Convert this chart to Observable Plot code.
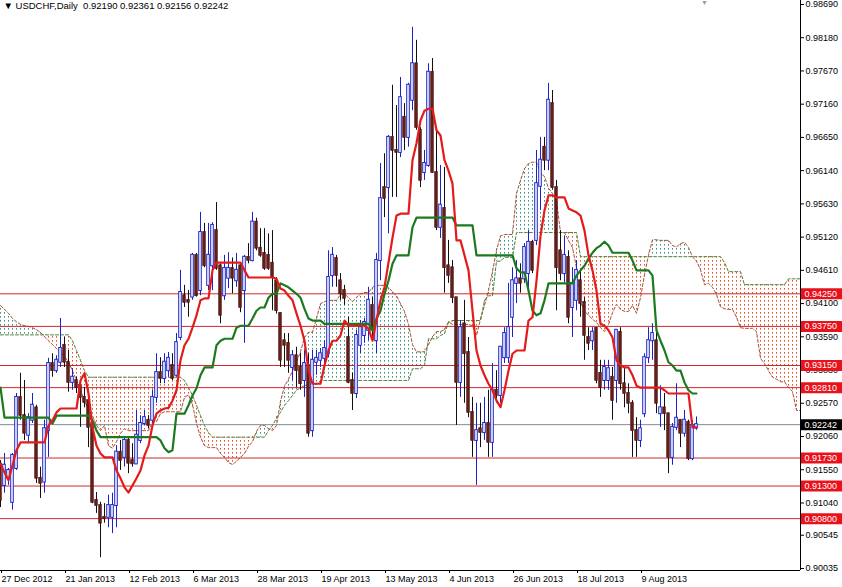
<!DOCTYPE html>
<html><head><meta charset="utf-8">
<script src="https://cdn.jsdelivr.net/npm/d3@7"></script>
<script src="https://cdn.jsdelivr.net/npm/@observablehq/plot@0.6"></script>
<style>
html,body{margin:0;padding:0;background:#fff;}
svg{display:block;}
</style>
</head><body><div id="chart"></div>
<script>
const symbol = "USDCHF";
const period = "Daily";

const open = [0.9164,0.9131,0.9142,0.9105,0.9157,0.9266,0.9238,0.9208,0.9231,0.9250,
0.9142,0.9136,0.9215,0.9318,0.9307,0.9320,0.9346,0.9320,0.9289,0.9292,
0.9284,0.9266,0.9261,0.9226,0.9108,0.9100,0.9082,0.9082,0.9082,0.9100,
0.9182,0.9174,0.9200,0.9169,0.9164,0.9200,0.9226,0.9231,0.9231,0.9266,
0.9304,0.9295,0.9307,0.9315,0.9300,0.9358,0.9422,0.9415,0.9420,0.9484,
0.9430,0.9519,0.9438,0.9468,0.9522,0.9468,0.9422,0.9449,0.9464,0.9445,
0.9468,0.9430,0.9481,0.9476,0.9535,0.9495,0.9487,0.9484,0.9472,0.9445,
0.9395,0.9353,0.9349,0.9312,0.9330,0.9312,0.9292,0.9315,0.9215,0.9320,
0.9323,0.9326,0.9333,0.9453,0.9479,0.9445,0.9430,0.9358,0.9292,0.9272,
0.9346,0.9361,0.9369,0.9407,0.9353,0.9476,0.9588,0.9588,0.9665,0.9645,
0.9642,0.9696,0.9665,0.9722,0.9778,0.9676,0.9611,0.9622,0.9765,0.9611,
0.9527,0.9556,0.9468,0.9465,0.9419,0.9289,0.9379,0.9335,0.9243,0.9200,
0.9218,0.9212,0.9226,0.9197,0.9277,0.9269,0.9327,0.9327,0.9389,0.9441,
0.9448,0.9448,0.9456,0.9504,0.9507,0.9590,0.9650,0.9630,0.9717,0.9588,
0.9491,0.9456,0.9481,0.9404,0.9415,0.9445,0.9412,0.9358,0.9353,0.9372,
0.9303,0.9292,0.9292,0.9297,0.9292,0.9366,0.9287,0.9272,0.9257,0.9215,
0.9200,0.9241,0.9327,0.9353,0.9353,0.9241,0.9250,0.9241,0.9174,0.9220,
0.9231,0.9211,0.9228,0.9172,0.92190];

const high = [0.9169,0.9180,0.9157,0.9180,0.9272,0.9303,0.9292,0.9241,0.9272,0.9254,
0.9159,0.9231,0.9326,0.9333,0.9330,0.9387,0.9358,0.9338,0.9310,0.9297,
0.9292,0.9281,0.9272,0.9228,0.9120,0.9105,0.9103,0.9116,0.9119,0.9192,
0.9200,0.9205,0.9205,0.9195,0.9246,0.9238,0.9246,0.9238,0.9277,0.9333,
0.9327,0.9333,0.9335,0.9333,0.9364,0.9461,0.9438,0.9430,0.9487,0.9487,
0.9550,0.9533,0.9533,0.9534,0.9565,0.9471,0.9484,0.9488,0.9480,0.9487,
0.9473,0.9484,0.9502,0.9550,0.9541,0.9525,0.9525,0.9517,0.9522,0.9450,
0.9395,0.9364,0.9364,0.9338,0.9343,0.9333,0.9338,0.9333,0.9338,0.9338,
0.9341,0.9353,0.9491,0.9496,0.9484,0.9456,0.9438,0.9389,0.9303,0.9369,
0.9384,0.9387,0.9435,0.9419,0.9487,0.9625,0.9640,0.9668,0.9745,0.9714,
0.9757,0.9717,0.9748,0.9834,0.9814,0.9680,0.9645,0.9778,0.9786,0.9680,
0.9622,0.9619,0.9507,0.9476,0.9419,0.9384,0.9415,0.9358,0.9266,0.9257,
0.9257,0.9266,0.9277,0.9318,0.9307,0.9343,0.9373,0.9441,0.9465,0.9476,
0.9471,0.9502,0.9522,0.9507,0.9645,0.9665,0.9665,0.9748,0.9737,0.9599,
0.9522,0.9514,0.9491,0.9465,0.9476,0.9461,0.9419,0.9373,0.9373,0.9373,
0.9323,0.9323,0.9323,0.9312,0.9369,0.9373,0.9312,0.9287,0.9261,0.9235,
0.9231,0.9333,0.9373,0.9379,0.9373,0.9284,0.9272,0.9241,0.9226,0.9287,
0.9231,0.9246,0.9231,0.9231,0.92361];

const low = [0.9097,0.9119,0.9131,0.9093,0.9154,0.9231,0.9200,0.9195,0.9226,0.9134,
0.9111,0.9119,0.9174,0.9297,0.9303,0.9312,0.9312,0.9274,0.9277,0.9272,
0.9220,0.9250,0.9189,0.9103,0.9088,0.9020,0.9073,0.9066,0.9057,0.9066,
0.9154,0.9159,0.9149,0.9159,0.9164,0.9195,0.9223,0.9218,0.9223,0.9257,
0.9287,0.9287,0.9297,0.9292,0.9297,0.9353,0.9404,0.9389,0.9415,0.9420,
0.9422,0.9465,0.9430,0.9430,0.9461,0.9379,0.9415,0.9433,0.9425,0.9435,
0.9396,0.9349,0.9471,0.9474,0.9491,0.9481,0.9461,0.9461,0.9399,0.9394,
0.9312,0.9312,0.9303,0.9292,0.9281,0.9277,0.9266,0.9205,0.9205,0.9300,
0.9312,0.9318,0.9327,0.9435,0.9435,0.9415,0.9407,0.9287,0.9246,0.9264,
0.9333,0.9349,0.9353,0.9358,0.9333,0.9445,0.9542,0.9517,0.9573,0.9573,
0.9634,0.9645,0.9650,0.9706,0.9676,0.9588,0.9599,0.9619,0.9610,0.9522,
0.9510,0.9426,0.9441,0.9410,0.9223,0.9266,0.9257,0.9235,0.9174,0.9131,
0.9189,0.9200,0.9174,0.9174,0.9257,0.9257,0.9318,0.9318,0.9358,0.9410,
0.9426,0.9441,0.9430,0.9456,0.9499,0.9553,0.9614,0.9614,0.9584,0.9399,
0.9445,0.9442,0.9379,0.9358,0.9399,0.9389,0.9323,0.9338,0.9338,0.9287,
0.9266,0.9277,0.9277,0.9231,0.9257,0.9277,0.9250,0.9241,0.9174,0.9174,
0.9189,0.9235,0.9318,0.9323,0.9241,0.9220,0.9215,0.9149,0.9162,0.9215,
0.9189,0.9205,0.9169,0.9169,0.92156];

const close = [0.9108,0.9162,0.9154,0.9177,0.9266,0.9238,0.9211,0.9235,0.9254,0.9142,
0.9134,0.9218,0.9318,0.9307,0.9323,0.9341,0.9320,0.9289,0.9297,0.9281,
0.9266,0.9258,0.9220,0.9105,0.9100,0.9073,0.9080,0.9100,0.9100,0.9182,
0.9169,0.9200,0.9165,0.9164,0.9208,0.9226,0.9235,0.9223,0.9266,0.9304,
0.9295,0.9320,0.9326,0.9295,0.9350,0.9427,0.9412,0.9412,0.9484,0.9422,
0.9519,0.9468,0.9484,0.9530,0.9464,0.9392,0.9464,0.9464,0.9449,0.9461,
0.9404,0.9481,0.9476,0.9535,0.9495,0.9484,0.9464,0.9464,0.9450,0.9399,
0.9323,0.9346,0.9323,0.9330,0.9307,0.9287,0.9318,0.9211,0.9323,0.9326,
0.9333,0.9341,0.9450,0.9484,0.9453,0.9425,0.9418,0.9289,0.9272,0.9361,
0.9373,0.9381,0.9415,0.9369,0.9476,0.9571,0.9571,0.9665,0.9645,0.9642,
0.9726,0.9665,0.9745,0.9778,0.9680,0.9599,0.9625,0.9765,0.9611,0.9527,
0.9561,0.9465,0.9453,0.9419,0.9289,0.9373,0.9333,0.9243,0.9200,0.9215,
0.9212,0.9226,0.9197,0.9277,0.9269,0.9343,0.9364,0.9373,0.9445,0.9448,
0.9441,0.9496,0.9504,0.9461,0.9594,0.9630,0.9630,0.9722,0.9588,0.9465,
0.9456,0.9484,0.9389,0.9441,0.9461,0.9410,0.9361,0.9349,0.9366,0.9292,
0.9281,0.9312,0.9310,0.9261,0.9369,0.9287,0.9272,0.9257,0.9215,0.9200,
0.9218,0.9327,0.9353,0.9364,0.9257,0.9250,0.9241,0.9174,0.9220,0.9234,
0.9211,0.9231,0.9172,0.9223,0.92242];

// Ichimoku: Tenkan-sen (red), Kijun-sen (green)
const tenkan = [0.9164,0.9151,0.9139,0.9162,0.9185,0.9197,0.9197,0.9197,0.9197,0.9197,0.9197,0.9197,0.9223,0.9231,0.9243,0.9249,0.9249,0.9249,0.9249,0.9249,
0.9292,0.9303,0.9272,0.9220,0.9192,0.9180,0.9174,0.9174,0.9174,0.9154,0.9142,0.9128,0.9120,0.9131,0.9142,0.9154,0.9177,0.9192,0.9223,0.9241,
0.9246,0.9249,0.9250,0.9261,0.9277,0.9323,0.9346,0.9356,0.9373,0.9392,0.9415,0.9418,0.9418,0.9461,0.9473,0.9473,0.9473,0.9473,0.9473,0.9473,
0.9473,0.9461,0.9450,0.9450,0.9450,0.9450,0.9450,0.9450,0.9450,0.9448,0.9433,0.9430,0.9422,0.9415,0.9395,0.9376,0.9353,0.9307,0.9287,0.9287,
0.9287,0.9315,0.9338,0.9353,0.9353,0.9361,0.9384,0.9376,0.9376,0.9376,0.9376,0.9376,0.9372,0.9353,0.9384,0.9415,0.9435,0.9473,0.9511,0.9545,
0.9548,0.9548,0.9548,0.9630,0.9656,0.9691,0.9706,0.9709,0.9709,0.9676,0.9668,0.9630,0.9614,0.9594,0.9507,0.9507,0.9484,0.9461,0.9399,0.9338,
0.9315,0.9300,0.9287,0.9277,0.9261,0.9251,0.9277,0.9307,0.9333,0.9338,0.9338,0.9338,0.9384,0.9389,0.9445,0.9514,0.9553,0.9576,0.9576,0.9573,
0.9573,0.9573,0.9556,0.9553,0.9550,0.9545,0.9522,0.9484,0.9461,0.9430,0.9379,0.9376,0.9369,0.9358,0.9323,0.9315,0.9312,0.9312,0.9300,0.9284,
0.9281,0.9281,0.9281,0.9281,0.9281,0.9281,0.9277,0.9272,0.9272,0.9272,0.9272,0.9272,0.9272,0.9220,0.9220];

const kijun = [0.9281,0.9235,0.9235,0.9235,0.9235,0.9235,0.9235,0.9235,0.9235,0.9235,0.9235,0.9235,0.9235,0.9226,0.9238,0.9238,0.9238,0.9238,0.9238,0.9238,
0.9238,0.9238,0.9238,0.9231,0.9215,0.9205,0.9205,0.9205,0.9205,0.9205,0.9205,0.9205,0.9205,0.9205,0.9205,0.9205,0.9205,0.9205,0.9205,0.9205,
0.9200,0.9188,0.9182,0.9185,0.9241,0.9241,0.9241,0.9254,0.9269,0.9280,0.9300,0.9312,0.9312,0.9312,0.9346,0.9353,0.9356,0.9356,0.9356,0.9373,
0.9376,0.9376,0.9376,0.9387,0.9399,0.9404,0.9404,0.9419,0.9425,0.9425,0.9441,0.9438,0.9435,0.9430,0.9425,0.9419,0.9402,0.9387,0.9384,0.9384,
0.9384,0.9379,0.9379,0.9379,0.9379,0.9379,0.9379,0.9379,0.9379,0.9379,0.9379,0.9379,0.9379,0.9369,0.9387,0.9399,0.9425,0.9445,0.9471,0.9484,
0.9484,0.9484,0.9484,0.9527,0.9542,0.9542,0.9542,0.9542,0.9542,0.9542,0.9542,0.9542,0.9542,0.9542,0.9530,0.9530,0.9530,0.9530,0.9530,0.9484,
0.9484,0.9484,0.9484,0.9484,0.9484,0.9484,0.9484,0.9484,0.9484,0.9464,0.9458,0.9458,0.9430,0.9399,0.9392,0.9395,0.9415,0.9441,0.9441,0.9441,
0.9441,0.9441,0.9441,0.9441,0.9453,0.9461,0.9468,0.9479,0.9488,0.9495,0.9499,0.9505,0.9499,0.9488,0.9488,0.9488,0.9488,0.9488,0.9476,0.9461,
0.9461,0.9461,0.9461,0.9453,0.9369,0.9353,0.9338,0.9320,0.9315,0.9307,0.9307,0.9289,0.9277,0.9272,0.9272];

// Senkou Span A / B (already shifted 26 bars forward, 201 bars)
const spanA = [0.9407,0.9401,0.9395,0.9387,0.9382,0.9378,0.9376,0.9375,0.9373,0.9370,0.9366,0.9359,0.9353,0.9347,0.9341,0.9335,0.9329,0.9320,0.9307,0.9292,
0.9277,0.9261,0.9246,0.9238,0.9223,0.9215,0.9223,0.9192,0.9188,0.9198,0.9211,0.9218,0.9215,0.9215,0.9215,0.9215,0.9215,0.9215,0.9229,0.9229,
0.9241,0.9244,0.9244,0.9244,0.9244,0.9244,0.9266,0.9270,0.9255,0.9226,0.9205,0.9192,0.9189,0.9189,0.9189,0.9180,0.9174,0.9166,0.9163,0.9168,
0.9174,0.9180,0.9191,0.9198,0.9214,0.9223,0.9223,0.9218,0.9215,0.9223,0.9260,0.9283,0.9294,0.9306,0.9321,0.9336,0.9358,0.9366,0.9366,0.9387,
0.9410,0.9413,0.9415,0.9415,0.9415,0.9424,0.9425,0.9419,0.9413,0.9419,0.9425,0.9427,0.9427,0.9435,0.9438,0.9438,0.9438,0.9435,0.9428,0.9422,
0.9410,0.9398,0.9378,0.9347,0.9336,0.9336,0.9336,0.9347,0.9359,0.9367,0.9367,0.9370,0.9382,0.9378,0.9378,0.9378,0.9378,0.9378,0.9376,0.9361,
0.9386,0.9407,0.9430,0.9459,0.9492,0.9514,0.9516,0.9516,0.9516,0.9579,0.9599,0.9617,0.9625,0.9627,0.9627,0.9610,0.9605,0.9587,0.9579,0.9568,
0.9519,0.9519,0.9507,0.9496,0.9465,0.9412,0.9399,0.9392,0.9386,0.9381,0.9373,0.9367,0.9378,0.9396,0.9409,0.9401,0.9398,0.9398,0.9407,0.9395,
0.9419,0.9454,0.9484,0.9508,0.9508,0.9507,0.9507,0.9507,0.9499,0.9497,0.9502,0.9504,0.9496,0.9482,0.9475,0.9462,0.9439,0.9441,0.9435,0.9424,
0.9405,0.9402,0.9401,0.9401,0.9389,0.9373,0.9372,0.9372,0.9372,0.9367,0.9326,0.9318,0.9307,0.9297,0.9294,0.9290,0.9290,0.9281,0.9275,0.9246,0.9246];

const spanB = [0.9362,0.9362,0.9362,0.9362,0.9362,0.9362,0.9362,0.9362,0.9362,0.9362,0.9362,0.9362,0.9362,0.9362,0.9362,0.9362,0.9362,0.9362,0.9353,0.9338,
0.9323,0.9307,0.9297,0.9297,0.9297,0.9297,0.9297,0.9297,0.9297,0.9297,0.9297,0.9297,0.9297,0.9297,0.9297,0.9297,0.9297,0.9297,0.9297,0.9297,
0.9297,0.9297,0.9297,0.9297,0.9297,0.9297,0.9292,0.9281,0.9269,0.9254,0.9238,0.9223,0.9212,0.9205,0.9205,0.9205,0.9205,0.9205,0.9205,0.9205,
0.9205,0.9205,0.9205,0.9205,0.9205,0.9205,0.9205,0.9215,0.9223,0.9234,0.9243,0.9254,0.9261,0.9269,0.9277,0.9281,0.9284,0.9286,0.9286,0.9286,
0.9292,0.9292,0.9292,0.9292,0.9292,0.9292,0.9292,0.9292,0.9292,0.9292,0.9292,0.9292,0.9292,0.9292,0.9292,0.9292,0.9292,0.9292,0.9292,0.9292,
0.9292,0.9292,0.9292,0.9310,0.9310,0.9310,0.9315,0.9356,0.9356,0.9356,0.9361,0.9364,0.9381,0.9384,0.9384,0.9384,0.9384,0.9384,0.9384,0.9384,
0.9384,0.9415,0.9422,0.9422,0.9475,0.9475,0.9481,0.9481,0.9481,0.9519,0.9519,0.9519,0.9519,0.9519,0.9519,0.9519,0.9519,0.9519,0.9519,0.9519,
0.9519,0.9519,0.9519,0.9519,0.9519,0.9482,0.9482,0.9482,0.9482,0.9482,0.9482,0.9482,0.9482,0.9482,0.9482,0.9482,0.9482,0.9482,0.9482,0.9482,
0.9482,0.9482,0.9482,0.9482,0.9482,0.9482,0.9482,0.9482,0.9482,0.9482,0.9482,0.9482,0.9482,0.9482,0.9482,0.9482,0.9482,0.9482,0.9482,0.9482,
0.9482,0.9473,0.9459,0.9459,0.9459,0.9459,0.9439,0.9439,0.9439,0.9439,0.9439,0.9439,0.9439,0.9439,0.9439,0.9439,0.9439,0.9448,0.9448,0.9448,0.9448];

const dateLabels = ["27 Dec 2012","21 Jan 2013","12 Feb 2013","6 Mar 2013","28 Mar 2013","19 Apr 2013","13 May 2013","4 Jun 2013","26 Jun 2013","18 Jul 2013","9 Aug 2013"];
const dateTickBars = [0,16,32,48,64,80,96,112,128,144,160];
const priceTicks = [0.98690,0.98180,0.97670,0.97160,0.96650,0.96140,0.95630,0.95120,0.94610,0.94100,0.93590,0.93080,0.92570,0.92060,0.91550,0.91040,0.90545,0.90035];
const levels = [0.94250,0.93750,0.93150,0.92810,0.91730,0.91300,0.90800];

const candles = close.map((c, i) => ({i, o: open[i], h: high[i], l: low[i], c, up: c >= open[i]}));
const lines = tenkan.map((t, i) => ({i, t, k: kijun[i]}));
const cloud = spanA.map((a, i) => ({i, a, b: spanB[i]}));
const last = candles[candles.length - 1];
const upC = candles.filter(d => d.up), dnC = candles.filter(d => !d.up);

const xMax = spanA.length - 1;       // 200
const yDomain = [0.90004, 0.98751];
const f5 = d => d.toFixed(5);
const title = `\u25BC\u00A0${symbol},${period}\u00A0\u00A0${f5(last.o)} ${f5(last.h)} ${f5(last.l)} ${f5(last.c)}`;
const hw = 0.32;

const chart = Plot.plot({
  width: 842, height: 587,
  marginLeft: 0, marginRight: 42, marginTop: 0, marginBottom: 17,
  style: {fontFamily: "'Liberation Sans', Arial, sans-serif", fontSize: "9px", background: "#fff", color: "#000"},
  x: {type: "linear", domain: [0, xMax], label: null},
  y: {domain: yDomain, label: null},
  marks: [
    // Kumo (cloud)
    Plot.areaY(cloud, {x: "i", y1: "b", y2: d => Math.max(d.a, d.b), fill: "url(#kumoUp)"}),
    Plot.areaY(cloud, {x: "i", y1: "a", y2: d => Math.max(d.a, d.b), fill: "url(#kumoDown)"}),
    Plot.line(cloud, {x: "i", y: "a", stroke: "#a8503a", strokeWidth: 1, strokeDasharray: "3,2"}),
    Plot.line(cloud, {x: "i", y: "b", stroke: "#4f7d35", strokeWidth: 1, strokeDasharray: "3,2"}),
    // horizontal levels
    Plot.ruleY(levels, {stroke: "#d0282c", strokeWidth: 1}),
    Plot.ruleY([last.c], {stroke: "#7d8b99", strokeWidth: 1}),
    // candles
    Plot.ruleX(dnC, {x: "i", y1: "l", y2: "h", stroke: "#111"}),
    Plot.rect(dnC, {x1: d => d.i - hw, x2: d => d.i + hw, y1: "c", y2: "o", fill: "#6a1c18", stroke: "#3a0c0a", strokeWidth: 0.6, insetTop: -0.5, insetBottom: -0.5}),
    Plot.ruleX(upC, {x: "i", y1: "l", y2: "h", stroke: "#1a22c8"}),
    Plot.rect(upC, {x1: d => d.i - hw, x2: d => d.i + hw, y1: "o", y2: "c", fill: "#fff", stroke: "#1a22c8", strokeWidth: 1, insetTop: -0.5, insetBottom: -0.5}),
    // Tenkan / Kijun
    Plot.line(lines, {x: "i", y: "k", stroke: "#1b7a1e", strokeWidth: 2.2}),
    Plot.line(lines, {x: "i", y: "t", stroke: "#e41b1b", strokeWidth: 2.2}),
    // frame lines (right and bottom)
    Plot.ruleX([xMax], {stroke: "#000"}),
    Plot.ruleY([yDomain[0]], {stroke: "#000"}),
    // axes
    Plot.axisY(priceTicks, {anchor: "right", label: null, tickSize: 3, tickPadding: 2, tickFormat: f5, fontSize: 9, fill: "#000", stroke: "#000"}),
    Plot.axisX(dateTickBars, {anchor: "bottom", label: null, tickSize: 3, tickPadding: 2, textAnchor: "start", dx: 1, tickFormat: d => dateLabels[dateTickBars.indexOf(d)], fontSize: 9, fill: "#000", stroke: "#000"}),
    // price labels on right
    Plot.ruleY(levels, {x1: xMax + 0.25, x2: xMax + 10.5, stroke: "#e8121c", strokeWidth: 11}),
    Plot.text(levels, {x: xMax, y: d => d, dx: 4, text: f5, textAnchor: "start", fill: "#fff", fontSize: 9}),
    Plot.ruleY([last.c], {x1: xMax + 0.25, x2: xMax + 10.5, stroke: "#000", strokeWidth: 11}),
    Plot.text([last.c], {x: xMax, y: d => d, dx: 4, text: f5, textAnchor: "start", fill: "#fff", fontSize: 9}),
    // header
    Plot.text([title], {frameAnchor: "top-left", dx: 3, dy: 2, lineAnchor: "top", textAnchor: "start", fontSize: 9.5, fill: "#000"}),
    Plot.text(["\u25BC"], {x: candles.length + 1, frameAnchor: "top", lineAnchor: "top", dy: 0, fontSize: 7, fill: "#9a9a9a"})
  ]
});

const ns = "http://www.w3.org/2000/svg";
const defs = document.createElementNS(ns, "defs");
defs.innerHTML =
  '<pattern id="kumoDown" patternUnits="userSpaceOnUse" x="0" y="0" width="4" height="4">' +
  '<rect x="0" y="0" width="1" height="1.6" fill="#e4502a"/></pattern>' +
  '<pattern id="kumoUp" patternUnits="userSpaceOnUse" x="0" y="0" width="4" height="4">' +
  '<rect x="0" y="0" width="1" height="1.6" fill="#3a9482"/></pattern>';
chart.insertBefore(defs, chart.firstChild);
document.getElementById("chart").appendChild(chart);
</script>
</body></html>
